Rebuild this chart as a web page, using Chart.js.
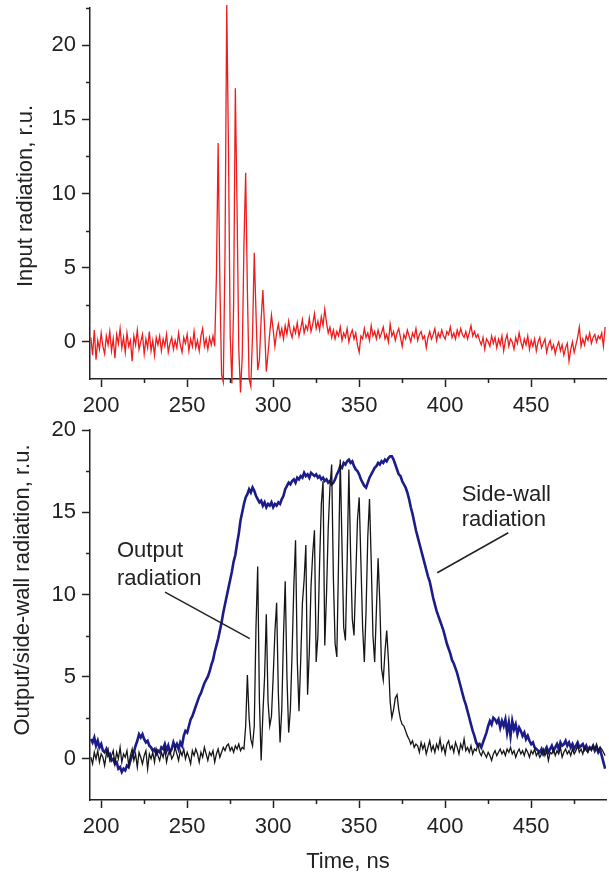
<!DOCTYPE html>
<html>
<head>
<meta charset="utf-8">
<title>Input, output and side-wall radiation</title>
<script src="https://cdn.jsdelivr.net/npm/chart.js@4.4.1/dist/chart.umd.min.js"></script>
<style>
  html, body { margin: 0; padding: 0; background: #fff; }
  #wrap { position: relative; width: 609px; height: 873px; }
  canvas { position: absolute; left: 0; }
  #topChart { top: 0; }
  #bottomChart { top: 420px; }
</style>
</head>
<body>
<div id="wrap">
  <canvas id="topChart" width="609" height="420"></canvas>
  <canvas id="bottomChart" width="609" height="453"></canvas>
</div>
<script>
// ── Sample times, ns (one sample per ns, 194 … 493) ─────────────
const tFirst = 194, tLast = 493;
const timeNs = [];
for (let t = tFirst; t <= tLast; t++) timeNs.push(t);

// ── Input radiation (top panel, red), r.u. ───────────────────────
const inputRad = [
  0.3, -0.9, 0.8, -1.2, 0.1, -0.5, 0.6, -0.3, -0.8, 0.4,      // 194
  -0.2, 0.7, -0.6, 0.2, -1.1, 0.5, -0.1, 0.9, -0.4, 0.3,      // 204
  -0.7, 0.6, -0.3, 0.1, -1.3, 0.4, -0.2, 0.8, -0.5, 0.0,      // 214
  0.5, -0.8, 0.2, -0.4, 0.7, -0.6, 0.1, -0.9, 0.3, -0.2,      // 224
  0.4, -0.6, 0.2, -0.3, 0.5, -0.7, -0.1, 0.3, -0.5, 0.1,      // 234
  -0.4, 0.6, -0.2, -0.7, 0.3, -0.1, 0.5, -0.6, 0.2, -0.3,     // 244
  0.7, -0.4, 0.1, -0.6, 0.4, 0.9, -0.3, 0.2, -0.5, 0.3,       // 254
  -0.2, 0.4, -0.3,                                            // 264
  4.5, 13.4, 4.0, -2.2, -2.7, 6.0, 22.7,                      // 267
  13.0, 0.5, -2.8, 2.5, 17.1, 9.0, -0.5, -3.4, -1.0, 6.5,     // 274
  11.4, 3.5, -2.5, -3.0, 0.5, 6.0, 2.0, -1.9, -1.2, 1.5,      // 284
  3.5, 1.0, -2.0, -0.8, 0.6, 1.8, 0.8, -0.3, 0.6, 1.2,        // 294
  0.4, 0.9, 0.2, 1.1, 0.5, 1.4, 0.7, 0.3, 1.0, 0.6,           // 304
  1.3, 0.4, 0.9, 1.5, 0.6, 1.1, 0.8, 1.6, 0.7, 1.2,           // 314
  1.9, 0.9, 1.4, 0.8, 1.7, 1.1, 2.2, 1.3, 0.6, 1.0,           // 324
  0.3, 0.8, 0.2, 0.7, 0.4, 1.0, 0.1, 0.6, 0.3, 0.9,           // 334
  0.0, 0.5, 0.8, 0.2, 0.6, -0.2, -0.7, 0.4, 0.2, 0.9,         // 344
  0.3, 0.6, 0.1, 1.1, 0.4, 0.7, 0.2, 0.8, 0.3, 0.6,           // 354
  1.0, 0.2, 0.5, 0.0, 1.2, 0.4, 0.7, 0.1, 0.6, 0.9,           // 364
  0.3, -0.3, 0.5, 0.2, 0.8, 0.4, 0.0, 0.6, 0.3, 0.9,          // 374
  0.1, 0.5, 0.7, 0.2, 0.4, -0.4, 0.3, 0.7, 0.2, 0.5,          // 384
  0.9, 0.1, 0.6, 0.3, 0.8, 0.4, 0.2, 0.7, 0.5, 1.0,           // 394
  0.3, 0.6, 0.2, 0.8, 0.4, 0.9, 0.5, 0.3, 0.7, 0.2,           // 404
  0.6, 1.1, 0.4, 0.7, 0.3, 0.5, 0.1, -0.2, 0.3, -0.5,         // 414
  0.2, 0.0, -0.3, 0.4, -0.1, 0.3, -0.4, 0.2, -0.2, 0.4,       // 424
  -0.6, 0.1, 0.5, -0.3, 0.2, 0.0, -0.5, 0.3, -0.1, 0.6,       // 434
  0.0, -0.4, 0.2, -0.2, 0.4, -0.5, 0.1, -0.3, 0.2, -0.6,      // 444
  0.0, 0.3, -0.4, -0.1, 0.2, -0.7, -0.2, 0.1, -0.5, -0.2,     // 454
  -0.8, -0.3, 0.0, -0.6, -0.2, -0.9, -0.4, -0.1, -1.3, -0.5,  // 464
  0.0, -0.7, -0.2, 0.3, 1.0, -0.3, 0.2, -0.2, 0.4, 0.1,       // 474
  0.6, -0.1, 0.3, 0.5, 0.0, 0.4, 0.2, 0.6, -0.3, 1.0          // 484
];

// ── Output radiation (bottom panel, black), r.u. ─────────────────
const outputRad = [
  0.1, -0.3, 0.4, 0.0, 0.5, -0.2, 0.3, 0.1, -0.4, 0.3,        // 194
  0.6, -0.1, 0.2, 0.5, -0.3, 0.4, 0.0, 0.7, -0.2, 0.3,        // 204
  0.1, 0.5, -0.4, 0.2, 0.6, -0.1, 0.3, -0.5, 0.4, 0.1,        // 214
  -0.3, 0.2, 0.5, -0.6, 0.3, 0.0, 0.4, -0.2, 0.6, 0.2,        // 224
  -0.1, 0.4, 0.1, 0.6, -0.2, 0.3, 0.5, 0.0, 0.2, 0.7,         // 234
  0.3, -0.1, 0.5, 0.2, 0.6, 0.0, 0.4, 0.1, -0.3, 0.5,         // 244
  0.2, 0.6, 0.3, -0.2, 0.4, 0.1, 0.7, 0.3, -0.1, 0.4,         // 254
  0.2, 0.5, -0.2, 0.3, 0.6, 0.1, 0.4, 0.7, 0.5, 0.8,          // 264
  0.9, 0.5, 0.7, 0.4, 0.8, 0.6, 0.9, 0.5, 0.7, 0.6,           // 274
  2.0, 5.1, 2.5, 1.2, 0.8, 2.0, 8.0, 11.7, 3.5, -0.1,         // 284
  2.7, 5.0, 8.8, 3.5, 2.0, 2.6, 5.0, 7.7, 9.5, 4.0,           // 294
  1.0, 3.0, 7.5, 10.8, 5.0, 1.6, 3.0, 6.5, 10.5, 13.3,        // 304
  6.0, 2.9, 6.0, 9.5, 10.9, 13.0, 3.9, 6.5, 10.5, 12.5,       // 314
  13.9, 5.9, 7.5, 12.0, 15.5, 16.9, 6.9, 10.0, 14.0, 16.5,    // 324
  17.9, 11.0, 7.0, 6.2, 12.0, 18.2, 13.0, 8.0, 7.2, 12.0,     // 334
  17.6, 12.5, 8.5, 7.5, 11.0, 14.5, 15.9, 12.0, 8.0, 5.9,     // 344
  9.0, 13.5, 15.8, 12.0, 7.5, 5.9, 9.0, 12.2, 9.5, 5.5,       // 354
  4.8, 6.5, 7.8, 6.0, 3.5, 2.5, 3.0, 3.7, 3.9, 3.0,           // 364
  2.4, 2.1, 2.0, 1.7, 1.4, 1.2, 0.9, 1.1, 0.7, 0.9,           // 374
  0.8, 0.4, 1.0, 0.6, 0.9, 0.3, 0.7, 1.1, 0.5, 0.8,           // 384
  0.4, 0.9, 0.6, 1.2, 0.5, 0.8, 0.3, 0.9, 1.1, 0.6,           // 394
  0.8, 0.4, 1.0, 0.7, 0.3, 0.9, 0.6, 1.2, 0.5, 0.7,           // 404
  0.4, 0.8, 0.3, 0.6, 0.5, 0.9, 0.4, 0.2, 0.5, 0.3,           // 414
  0.1, 0.4, 0.2, -0.1, 0.3, 0.5, 0.2, 0.4, 0.6, 0.3,          // 424
  0.5, 0.2, 0.6, 0.4, 0.7, 0.3, 0.5, 0.1, 0.4, 0.6,           // 434
  0.3, 0.5, 0.2, 0.6, 0.4, 0.1, 0.5, 0.3, 0.6, 0.2,           // 444
  0.4, 0.1, 0.3, 0.6, 0.2, 0.5, -0.1, 0.4, 0.3, 0.6,          // 454
  0.2, 0.5, 0.3, 0.7, 0.1, 0.4, 0.6, 0.3, 0.5, 0.2,           // 464
  0.6, 0.3, 0.5, 0.8, 0.4, 0.6, 0.3, 0.7, 0.5, 0.4,           // 474
  0.7, 0.5, 0.8, 0.6, 0.9, 0.5, 0.7, 0.6, 0.4, 0.2            // 484
];

// ── Side-wall radiation (bottom panel, dark blue), r.u. ──────────
const sideWallRad = [
  1.2, 1.0, 1.3, 0.8, 1.1, 0.7, 0.9, 0.5, 0.4, 0.6,           // 194
  0.2, 0.3, -0.1, 0.0, -0.3, -0.2, -0.6, -0.5, -0.8, -0.6,    // 204
  -0.7, -0.4, -0.5, -0.1, 0.2, 0.4, 0.8, 1.1, 1.5, 1.3,       // 214
  1.5, 1.2, 1.0, 1.1, 0.8, 0.7, 0.5, 0.6, 0.3, 0.5,           // 224
  0.4, 0.7, 0.6, 0.9, 0.5, 0.8, 0.4, 0.6, 1.0, 0.7,           // 234
  0.9, 0.6, 1.0, 0.8, 1.4, 1.7, 1.6, 2.0, 2.4, 2.6,           // 244
  2.9, 3.2, 3.5, 3.8, 4.0, 4.3, 4.6, 4.8, 5.0, 5.3,           // 254
  5.7, 6.0, 6.5, 6.9, 7.3, 7.8, 8.3, 8.9, 9.4, 9.9,           // 264
  10.4, 10.9, 11.4, 12.0, 12.4, 13.1, 13.7, 14.5, 15.0, 15.5, // 274
  15.9, 16.1, 16.4, 16.2, 16.5, 16.3, 16.0, 15.8, 15.6, 15.7, // 284
  15.4, 15.6, 15.3, 15.5, 15.4, 15.6, 15.3, 15.5, 15.4, 15.6, // 294
  15.5, 15.8, 16.0, 16.4, 16.6, 16.8, 16.7, 16.9, 17.0, 16.8, // 304
  17.1, 17.0, 17.2, 17.1, 17.4, 17.2, 17.3, 17.1, 17.4, 17.3, // 314
  17.2, 17.3, 17.1, 17.2, 17.0, 17.1, 16.9, 17.0, 16.8, 16.9, // 324
  16.7, 16.8, 17.0, 17.3, 17.5, 17.8, 17.7, 18.0, 17.9, 18.1, // 334
  18.2, 18.0, 18.1, 17.8, 17.6, 17.5, 17.3, 17.0, 16.8, 16.6, // 344
  16.5, 16.8, 17.1, 17.3, 17.5, 17.7, 17.8, 18.0, 17.9, 18.1, // 354
  18.0, 18.2, 18.1, 18.3, 18.4, 18.4, 18.2, 17.9, 17.6, 17.3, // 364
  17.2, 16.9, 16.7, 16.5, 16.2, 15.8, 15.3, 14.9, 14.4, 13.9, // 374
  13.5, 13.1, 12.7, 12.3, 11.9, 11.5, 11.1, 10.8, 10.3, 9.8,  // 384
  9.4, 9.0, 8.7, 8.4, 8.1, 7.8, 7.4, 7.0, 6.7, 6.4,           // 394
  6.0, 5.8, 5.5, 5.2, 4.8, 4.4, 4.0, 3.6, 3.3, 2.9,           // 404
  2.5, 2.1, 1.7, 1.4, 1.0, 0.8, 0.9, 0.7, 1.0, 1.3,           // 414
  1.6, 2.0, 2.3, 2.1, 2.5, 2.4, 2.2, 2.4, 1.9, 2.3,           // 424
  2.0, 2.4, 1.6, 2.2, 1.4, 2.3, 1.8, 2.1, 1.5, 1.9,           // 434
  1.7, 1.4, 1.6, 1.2, 1.4, 1.1, 0.9, 1.0, 0.7, 0.6,           // 444
  0.5, 0.4, 0.6, 0.3, 0.5, 0.7, 0.4, 0.6, 0.8, 0.5,           // 454
  0.7, 0.9, 0.6, 1.0, 0.8, 0.9, 1.1, 0.8, 1.0, 0.7,           // 464
  0.9, 0.6, 0.8, 1.0, 0.7, 0.8, 0.9, 0.6, 0.8, 0.5,           // 474
  0.7, 0.6, 0.8, 0.5, 0.7, 0.4, 0.6, 0.2, -0.2, -0.6          // 484
];

// ── Axis ranges and labelled ticks ───────────────────────────────
const timeRange = [193.5, 493.5];
const inputRange = [-2.5, 22.5];
const outputRange = [-2.5, 20];
const timeTicks = [200, 250, 300, 350, 400, 450];
const inputTicks = [0, 5, 10, 15, 20];
const outputTicks = [0, 5, 10, 15, 20];

// ── Labels ───────────────────────────────────────────────────────
const topYTitle = 'Input radiation, r.u.';
const bottomYTitle = 'Output/side-wall radiation, r.u.';
const xTitle = 'Time, ns';

const INK = '#222';
Chart.defaults.font.family = "'Liberation Sans', Arial, sans-serif";
Chart.defaults.color = INK;

const toPts = arr => arr.map((v, i) => ({ x: timeNs[i], y: v }));

// minor ticks, rotated y title, annotations
const decorations = {
  id: 'decorations',
  afterDraw(chart, args, opts) {
    const { ctx, chartArea, scales } = chart;
    const xs = scales.x, ys = scales.y;
    ctx.save();
    ctx.strokeStyle = INK;
    ctx.lineWidth = 1.5;
    [xs, ys].forEach(s => {
      const t = s.ticks;
      if (t.length < 2) return;
      const step = t[1].value - t[0].value;
      for (let v = t[0].value - step / 2; v <= s.max + 1e-9; v += step) {
        if (v <= s.min + 1e-9) continue;
        const p = Math.round(s.getPixelForValue(v)) + 0.5;
        ctx.beginPath();
        if (s.axis === 'x') { ctx.moveTo(p, chartArea.bottom); ctx.lineTo(p, chartArea.bottom + 4); }
        else { ctx.moveTo(chartArea.left, p); ctx.lineTo(chartArea.left - 4, p); }
        ctx.stroke();
      }
    });

    ctx.fillStyle = INK;
    ctx.font = "22px 'Liberation Sans', Arial, sans-serif";
    if (opts.yTitle) {
      ctx.save();
      ctx.translate(opts.yTitle.x, opts.yTitle.y);
      ctx.rotate(-Math.PI / 2);
      ctx.textAlign = 'center';
      ctx.textBaseline = 'middle';
      ctx.fillText(opts.yTitle.text, 0, 0);
      ctx.restore();
    }
    (opts.notes || []).forEach(n => {
      ctx.textAlign = 'left';
      ctx.textBaseline = 'alphabetic';
      ctx.fillText(n.text, xs.getPixelForValue(n.t), ys.getPixelForValue(n.v));
    });
    (opts.leaders || []).forEach(l => {
      ctx.beginPath();
      ctx.moveTo(xs.getPixelForValue(l.t1), ys.getPixelForValue(l.v1));
      ctx.lineTo(xs.getPixelForValue(l.t2), ys.getPixelForValue(l.v2));
      ctx.stroke();
    });
    ctx.restore();
  }
};

function zeroPad(s) { s.paddingTop = 0; s.paddingBottom = 0; s.paddingLeft = 0; s.paddingRight = 0; }
const fixedTicks = vals => s => { s.ticks = vals.map(v => ({ value: v })); };

function timeAxis(height, withTitle) {
  return {
    type: 'linear',
    min: timeRange[0], max: timeRange[1],
    border: { color: INK, width: 1.5 },
    grid: { drawOnChartArea: false, tickLength: 8, tickWidth: 1.5, tickColor: INK, color: INK },
    ticks: { autoSkip: false, maxRotation: 0, padding: 6, color: INK, font: { size: 22 } },
    afterBuildTicks: fixedTicks(timeTicks),
    title: withTitle
      ? { display: true, text: xTitle, color: INK, font: { size: 22, lineHeight: 1 }, padding: { top: 0, bottom: 0 } }
      : { display: false },
    afterFit: s => { s.height = height; zeroPad(s); }
  };
}

function valueAxis(range, tickVals) {
  return {
    type: 'linear',
    min: range[0], max: range[1],
    border: { color: INK, width: 1.5 },
    grid: { drawOnChartArea: false, tickLength: 8, tickWidth: 1.5, tickColor: INK, color: INK },
    ticks: { autoSkip: false, padding: 6, color: INK, font: { size: 22 } },
    afterBuildTicks: fixedTicks(tickVals),
    afterFit: s => { s.width = 90; zeroPad(s); }
  };
}

const lineClip = { left: 0, right: 0, top: false, bottom: false };

// ── Top panel: input radiation ───────────────────────────────────
new Chart(document.getElementById('topChart'), {
  type: 'line',
  data: {
    datasets: [{
      label: 'Input radiation',
      data: toPts(inputRad),
      borderColor: '#ee1c1c',
      borderWidth: 1.3,
      pointRadius: 0,
      tension: 0,
      clip: lineClip
    }]
  },
  options: {
    responsive: false,
    animation: false,
    devicePixelRatio: 1,
    layout: { padding: { left: 0, right: 3, top: 8, bottom: 0 } },
    plugins: {
      legend: { display: false },
      tooltip: { enabled: false },
      decorations: { yTitle: { text: topYTitle, x: 26, y: 196 } }
    },
    scales: { x: timeAxis(41, false), y: valueAxis(inputRange, inputTicks) }
  },
  plugins: [decorations]
});

// ── Bottom panel: output + side-wall radiation ───────────────────
new Chart(document.getElementById('bottomChart'), {
  type: 'line',
  data: {
    datasets: [
      {
        label: 'Output radiation',
        data: toPts(outputRad),
        borderColor: '#151515',
        borderWidth: 1.3,
        pointRadius: 0,
        tension: 0,
        clip: lineClip
      },
      {
        label: 'Side-wall radiation',
        data: toPts(sideWallRad),
        borderColor: '#1b1b8a',
        borderWidth: 2.6,
        pointRadius: 0,
        tension: 0,
        clip: lineClip
      }
    ]
  },
  options: {
    responsive: false,
    animation: false,
    devicePixelRatio: 1,
    layout: { padding: { left: 0, right: 3, top: 10, bottom: 0 } },
    plugins: {
      legend: { display: false },
      tooltip: { enabled: false },
      decorations: {
        yTitle: { text: bottomYTitle, x: 23, y: 170 },
        notes: [
          { text: 'Output', t: 209.2, v: 12.25 },
          { text: 'radiation', t: 209.2, v: 10.6 },
          { text: 'Side-wall', t: 409.6, v: 15.67 },
          { text: 'radiation', t: 409.6, v: 14.15 }
        ],
        leaders: [
          { t1: 237.1, v1: 10.14, t2: 286.4, v2: 7.31 },
          { t1: 436.7, v1: 13.75, t2: 395.4, v2: 11.32 }
        ]
      }
    },
    scales: { x: timeAxis(73, true), y: valueAxis(outputRange, outputTicks) }
  },
  plugins: [decorations]
});
</script>
</body>
</html>
